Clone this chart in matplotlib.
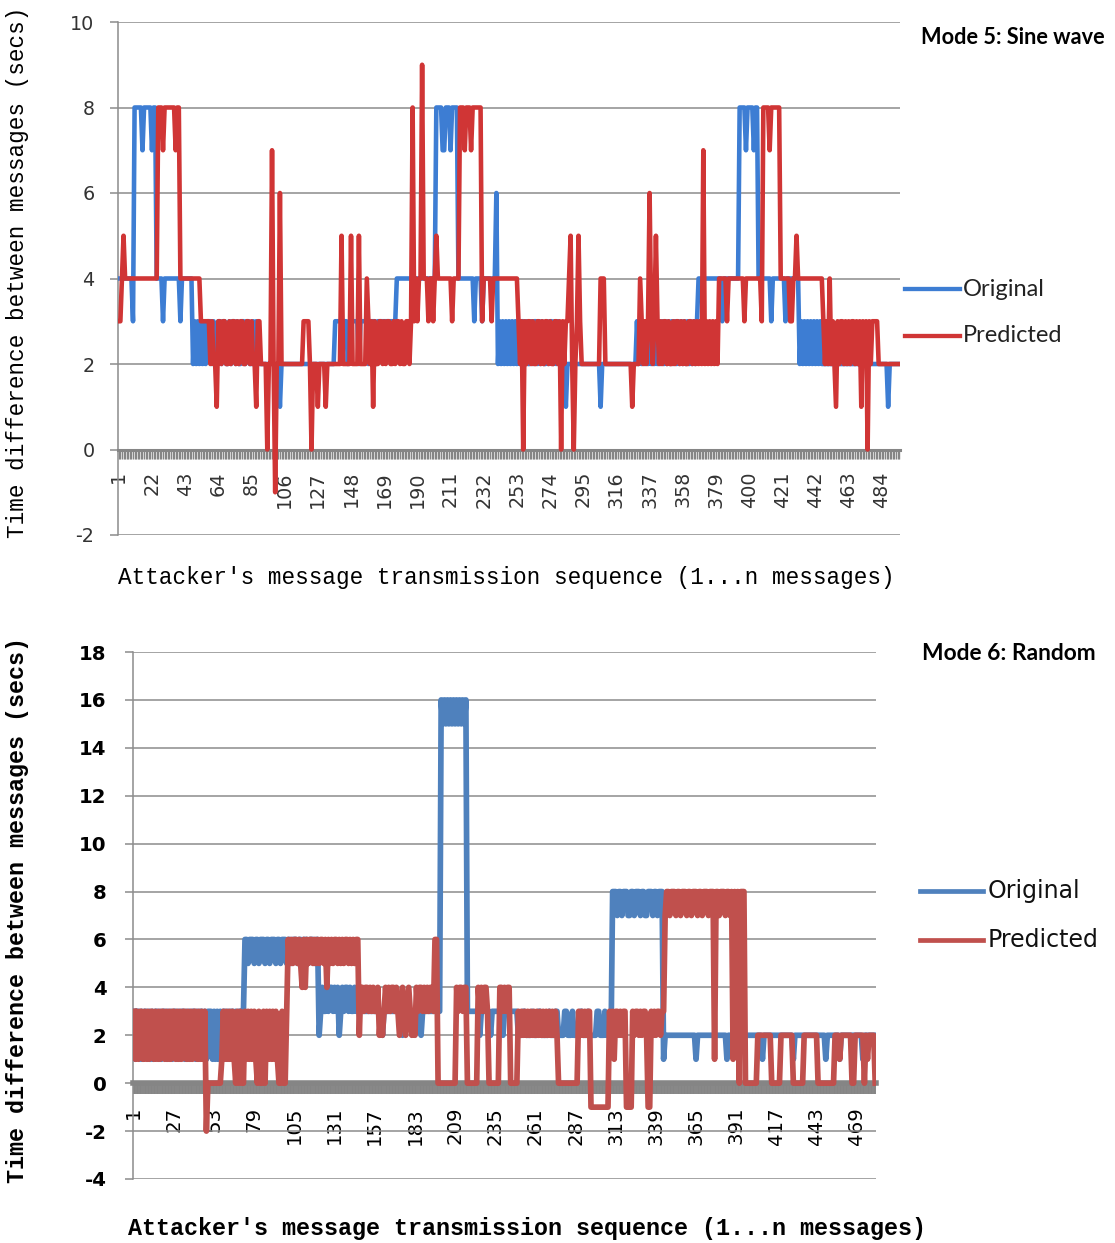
import numpy as np
import matplotlib
matplotlib.use('Agg')
import matplotlib.pyplot as plt
from matplotlib.lines import Line2D
from matplotlib.ticker import FixedLocator, NullFormatter, FixedFormatter

# ------------------------------------------------------------------ data
# Each series is run-length encoded: (value, number of consecutive messages)
TOP_N = 495
top_original = [
    (4, 9), (3, 1), (8, 5), (7, 1), (8, 5), (7, 1), (8, 2), (4, 4), (3, 1), (4, 10), (3, 1), (4, 7),
    (2, 1), (3, 1), (2, 1), (3, 1), (2, 1), (3, 1), (2, 1), (3, 1), (2, 1), (3, 1),
    (3, 2), (2, 1), (3, 1), (2, 2), (3, 2), (2, 1), (3, 2), (2, 2), (3, 1), (2, 1), (3, 2), (2, 1),
    (3, 1), (2, 2), (3, 2), (2, 1), (3, 2), (2, 2), (3, 1), (2, 1), (3, 1), (2, 4),
    (2, 10), (1, 1), (2, 34),
    (3, 8), (2, 1), (3, 6), (2, 1), (3, 5), (2, 1), (3, 4), (2, 1), (3, 12),
    (4, 25), (8, 4), (7, 2), (8, 3), (7, 1), (8, 4),
    (4, 10), (3, 1), (4, 4), (3, 1), (4, 8), (6, 1),
    (2, 1), (3, 1), (2, 1), (3, 1), (2, 1), (3, 1), (2, 1), (3, 1), (2, 1), (3, 1), (2, 1), (3, 1), (2, 1),
    (3, 1), (2, 1), (3, 2), (2, 1), (3, 1), (2, 2), (3, 1), (2, 1), (3, 2), (2, 1), (3, 1), (2, 1),
    (3, 1), (2, 2), (3, 1), (2, 1), (3, 2), (2, 1), (3, 1), (2, 1), (3, 1), (2, 4),
    (1, 1), (2, 21), (1, 1), (2, 22),
    (3, 1), (2, 1), (3, 1), (2, 1), (3, 1), (2, 1), (3, 1), (2, 1), (3, 1), (2, 1), (3, 1), (2, 1), (3, 1),
    (2, 1), (3, 1), (2, 1), (3, 1), (2, 1), (3, 1), (2, 1), (3, 1), (2, 1), (3, 1), (2, 1), (3, 1), (2, 1),
    (3, 1), (2, 1), (3, 1), (2, 1), (3, 1), (2, 1), (3, 1), (2, 1), (3, 1), (2, 1), (3, 1), (2, 1), (3, 1),
    (4, 15), (3, 1), (4, 10), (8, 4), (7, 1), (8, 4), (7, 1), (8, 2),
    (4, 8), (3, 1), (4, 8), (3, 1), (4, 8),
    (2, 1), (3, 1), (2, 1), (3, 1), (2, 1), (3, 1), (2, 1), (3, 1), (2, 1), (3, 1), (2, 1), (3, 1), (2, 1),
    (3, 1), (2, 1),
    (2, 41), (1, 1), (2, 7),
]
top_predicted = [
    (3, 2), (4, 1), (5, 1), (4, 21), (8, 3), (7, 1), (8, 7), (7, 1), (8, 2), (4, 13), (3, 4),
    (3, 2), (2, 1), (3, 1), (2, 2), (1, 1), (3, 2), (2, 1), (3, 2), (2, 2), (3, 1), (2, 1), (3, 2), (2, 1),
    (3, 1), (2, 1), (3, 2), (2, 2), (3, 2), (2, 1), (3, 1), (2, 2), (1, 1), (3, 2), (2, 2),
    (2, 2), (0, 1), (2, 2), (7, 1), (2, 1), (-1, 1), (2, 2), (6, 1), (2, 14), (3, 4), (2, 1), (0, 1),
    (2, 3), (1, 1), (2, 4), (1, 1), (2, 9), (5, 1), (2, 5), (5, 1), (2, 4), (5, 1), (2, 4), (4, 1),
    (3, 1), (2, 1), (3, 1), (1, 1), (3, 1), (2, 2), (3, 2), (2, 1), (3, 1), (2, 1), (3, 2), (2, 2),
    (3, 1), (2, 1), (3, 2), (2, 1), (3, 1), (2, 2), (3, 2), (2, 1), (3, 1),
    (8, 1), (3, 1), (4, 1), (3, 1), (4, 2), (9, 1), (4, 3), (3, 1), (4, 2), (3, 1), (4, 1), (5, 1),
    (4, 9), (3, 1), (4, 4), (8, 3), (7, 1), (8, 3), (7, 1), (8, 6), (3, 1), (4, 5), (3, 1), (4, 16),
    (3, 1), (2, 1), (3, 1), (0, 1), (3, 1), (2, 1), (3, 2), (2, 1), (3, 1), (2, 2), (3, 2), (2, 1),
    (3, 1), (2, 1), (3, 2), (2, 1), (3, 1), (2, 2), (3, 2), (2, 1), (3, 1), (0, 1), (3, 1), (2, 1),
    (3, 2), (4, 1), (5, 1), (2, 1), (0, 1), (2, 1), (3, 1), (5, 1), (3, 1), (2, 12), (4, 3), (2, 17),
    (1, 1), (2, 4), (4, 1), (3, 1), (2, 1), (3, 1), (2, 1), (3, 1), (6, 1), (3, 1), (2, 1), (3, 1),
    (5, 1), (3, 1),
    (2, 1), (3, 1), (2, 1), (3, 2), (2, 1), (3, 1), (2, 2), (3, 1), (2, 1), (3, 2), (2, 1), (3, 1),
    (2, 1), (3, 1), (2, 2), (3, 2), (2, 1), (3, 1), (2, 1), (3, 1), (2, 1), (3, 1),
    (2, 1), (7, 1), (2, 1), (3, 1), (2, 1), (3, 1), (2, 1), (3, 1), (2, 1), (3, 1), (2, 1),
    (4, 5), (3, 1), (4, 10), (3, 1), (4, 10), (3, 1), (8, 4), (7, 1), (8, 6),
    (4, 6), (3, 2), (4, 2), (5, 1), (4, 16),
    (3, 1), (2, 1), (3, 1), (2, 1), (4, 1), (2, 1), (3, 1), (2, 1), (1, 1), (3, 1), (2, 1), (3, 2),
    (2, 1), (3, 1), (2, 1), (3, 1), (2, 1), (3, 2), (2, 1), (3, 1), (2, 1), (3, 1), (1, 1), (3, 1),
    (2, 1), (3, 1), (0, 1), (3, 1), (2, 1),
    (3, 4), (2, 14),
]
top_xtick_labels = [1, 22, 43, 64, 85, 106, 127, 148, 169, 190, 211, 232, 253, 274, 295, 316,
                    337, 358, 379, 400, 421, 442, 463, 484]
top_yticks = [-2, 0, 2, 4, 6, 8, 10]

BOT_N = 481
bot_original = [
    (3, 1), (1, 1), (3, 2), (1, 1), (3, 1), (1, 1), (3, 2), (1, 1), (3, 1), (1, 1), (3, 1), (1, 1),
    (3, 2), (1, 1), (3, 1), (1, 1), (3, 2), (1, 1), (3, 1), (1, 1), (3, 1), (1, 1), (3, 2), (1, 1),
    (3, 1), (1, 1), (3, 2), (1, 1), (3, 1), (1, 1), (3, 1), (1, 1), (3, 2), (1, 1), (3, 1), (1, 1),
    (3, 2), (1, 1), (3, 1), (1, 1), (3, 2),
    (3, 1), (1, 1), (3, 1), (1, 1), (3, 1), (1, 1), (3, 1),
    (1, 1), (3, 2), (1, 1), (3, 1), (1, 1), (3, 2), (2, 1), (3, 1), (1, 1), (3, 2), (1, 1), (3, 1),
    (6, 2), (5, 1), (6, 3), (5, 1), (6, 2), (5, 1), (6, 3), (5, 1), (6, 2), (5, 1), (6, 3), (5, 1),
    (6, 2), (5, 1), (6, 3), (5, 1), (6, 2), (5, 1), (6, 3), (5, 1), (6, 2), (5, 1), (6, 3), (5, 1),
    (6, 1), (6, 2), (5, 1), (6, 2),
    (2, 1), (3, 1), (4, 1), (3, 2), (4, 1), (3, 1), (4, 2), (3, 1), (4, 1), (3, 1), (4, 1),
    (2, 1), (3, 1), (4, 1), (3, 1), (4, 2), (3, 1), (4, 1), (3, 2), (4, 1), (3, 1), (4, 1), (3, 1),
    (3, 14), (2, 1), (3, 12), (2, 1), (3, 11), (2, 1), (3, 12),
    (16, 1), (15, 1), (16, 1), (15, 1), (16, 1), (15, 1), (16, 1), (15, 1), (16, 1), (15, 1), (16, 1),
    (15, 1), (16, 1), (15, 1), (16, 1), (15, 1), (16, 1),
    (3, 8), (2, 1), (3, 6), (2, 1), (3, 7), (2, 1), (3, 9),
    (2, 3), (3, 2), (2, 4), (3, 1), (2, 3), (3, 2), (2, 5), (3, 1), (2, 3), (3, 2), (2, 4), (3, 2),
    (2, 3), (3, 1), (2, 4), (3, 2), (2, 3), (3, 1), (2, 5), (3, 2), (2, 3), (3, 1), (2, 4),
    (8, 3), (7, 1), (8, 2), (7, 1), (8, 3), (7, 2), (8, 2), (7, 1), (8, 3), (7, 1), (8, 2), (7, 2),
    (8, 3), (7, 1), (8, 2), (7, 1), (8, 3),
    (1, 1), (2, 20), (1, 1), (2, 19), (1, 1), (2, 22), (1, 1), (2, 19), (1, 1), (2, 20), (1, 1),
    (2, 8), (1, 1), (2, 14), (1, 1), (2, 8),
]
bot_predicted = [
    (3, 1), (1, 1), (3, 1), (1, 1), (3, 2), (1, 1), (3, 1), (1, 1), (3, 1), (1, 1), (3, 2), (1, 1),
    (3, 1), (1, 1), (3, 1), (1, 1), (3, 2), (1, 1), (3, 1), (1, 1), (3, 1), (1, 1), (3, 2), (1, 1),
    (3, 1), (1, 1), (3, 1), (1, 1), (3, 2), (1, 1), (3, 1), (1, 1), (3, 1), (1, 1), (3, 2), (1, 1),
    (3, 1), (1, 1), (3, 1), (1, 1), (3, 1),
    (-2, 1), (0, 9),
    (1, 1), (3, 1), (1, 1), (3, 1), (1, 1), (3, 1), (1, 1), (3, 1), (1, 1),
    (0, 1), (3, 1), (0, 1), (3, 1), (0, 2), (3, 1), (1, 1), (3, 1), (1, 1), (3, 1), (1, 1), (3, 1),
    (1, 1), (0, 1), (3, 1), (0, 2), (3, 1), (0, 1), (3, 1), (1, 1), (3, 1), (1, 1), (3, 1), (1, 1),
    (3, 1), (1, 1), (0, 2), (3, 1), (0, 2), (3, 1),
    (6, 1), (5, 1), (6, 1), (5, 1), (6, 2), (5, 1), (6, 1), (5, 1), (4, 1), (6, 1), (4, 1),
    (6, 1), (5, 1), (6, 2), (5, 1), (6, 1), (5, 1), (6, 1), (5, 1), (6, 2), (5, 1), (6, 1), (4, 1),
    (6, 1), (5, 1), (6, 1), (5, 1), (6, 2), (5, 1), (6, 1), (5, 1), (6, 1), (5, 1), (6, 2), (5, 1),
    (6, 1), (5, 1), (6, 1), (5, 1), (6, 2),
    (2, 1), (4, 1),
    (4, 1), (3, 1), (4, 2), (3, 1), (4, 1), (3, 1), (4, 1), (3, 2), (4, 1),
    (2, 1), (3, 1), (2, 1), (3, 1),
    (4, 1), (3, 1), (4, 1), (3, 1), (4, 2), (3, 1), (4, 1), (3, 1),
    (2, 1), (3, 1), (4, 1), (3, 1), (2, 1), (3, 1), (4, 1), (3, 1), (2, 1), (3, 1), (2, 1),
    (4, 1), (3, 1), (4, 2), (3, 1), (4, 1), (3, 1), (4, 1), (3, 1), (4, 2), (3, 1),
    (6, 2), (0, 12), (4, 1), (3, 1), (4, 2), (3, 1), (4, 2), (0, 7),
    (4, 1), (3, 1), (4, 1), (3, 1), (4, 2), (3, 1), (0, 7), (4, 2), (3, 1), (4, 1), (3, 1), (4, 2),
    (0, 5),
    (3, 1), (2, 1), (3, 1), (2, 1), (3, 1), (2, 1), (3, 1), (2, 1), (3, 1), (2, 1), (3, 1), (2, 1),
    (3, 1), (2, 1), (3, 1), (2, 1), (3, 1), (2, 1), (3, 1), (2, 1), (3, 1), (2, 1), (3, 1), (2, 1),
    (3, 1), (2, 1),
    (0, 13), (3, 1), (2, 1), (3, 1), (2, 1), (3, 1), (2, 1), (3, 2), (-1, 12),
    (3, 1), (2, 1), (3, 1), (1, 1), (3, 2), (2, 1), (3, 1), (2, 1), (3, 2), (-1, 4),
    (3, 1), (2, 1), (3, 2), (2, 1), (3, 1), (2, 1), (3, 2), (2, 1), (-1, 2),
    (3, 1), (2, 1), (3, 1), (2, 1), (3, 2), (2, 1), (3, 2), (7, 1),
    (8, 2), (7, 1), (8, 3), (7, 1), (8, 2), (7, 1), (8, 3), (7, 1), (8, 2), (7, 1), (8, 3), (7, 1),
    (8, 2), (7, 1), (8, 3), (7, 1), (8, 3), (1, 1),
    (8, 2), (7, 1), (8, 3), (7, 1), (8, 2), (7, 1), (8, 1), (1, 1), (8, 1), (7, 1), (8, 1), (0, 1),
    (8, 3),
    (0, 8), (2, 9), (0, 6), (2, 8), (0, 7), (2, 9), (0, 11), (2, 3), (1, 1), (2, 7), (0, 2), (2, 6),
    (0, 1), (2, 1), (1, 1), (2, 4), (0, 1),
]
bot_xtick_labels = [1, 27, 53, 79, 105, 131, 157, 183, 209, 235, 261, 287, 313, 339, 365, 391,
                    417, 443, 469]
bot_yticks = [-4, -2, 0, 2, 4, 6, 8, 10, 12, 14, 16, 18]

series_names = ["Original", "Predicted"]
top_colors = ["#3D7DD3", "#D03535"]
bot_colors = ["#4F81BD", "#C0504D"]


def expand(rle):
    return np.concatenate([np.full(c, v, dtype=float) for v, c in rle])


W, H = 1115, 1243
fig = plt.figure(figsize=(W / 100, H / 100), dpi=100)


def px(x, y):
    return x / W, 1 - y / H


GRID = "#8C8C8C"
BAND = "#858585"


def setup_axes(rect, n, ylim, yticks, xlabels, tick_color, yweight, xweight, tick_size,
               band_len, band_w, ypad, xpad):
    ax = fig.add_axes(rect)
    ax.set_xlim(0.5, n + 0.5)
    ax.set_ylim(*ylim)
    for s in ["top", "right"]:
        ax.spines[s].set_visible(False)
    ax.spines["left"].set_color(GRID)
    ax.spines["left"].set_linewidth(1.1)
    ax.spines["bottom"].set_position(("data", 0))
    ax.spines["bottom"].set_color(BAND)
    ax.spines["bottom"].set_linewidth(2.2)
    ax.set_yticks(yticks)
    ax.set_yticklabels([str(t) for t in yticks], fontfamily="DejaVu Sans", color=tick_color,
                       fontweight=yweight, fontsize=tick_size)
    ax.tick_params(axis="y", length=6, width=1.1, color=GRID, pad=ypad)
    ax.yaxis.grid(True, color=GRID, linewidth=1.1)
    ax.set_axisbelow(True)
    ax.xaxis.set_major_locator(FixedLocator(xlabels))
    ax.xaxis.set_major_formatter(FixedFormatter([str(v) for v in xlabels]))
    ax.xaxis.set_minor_locator(FixedLocator(np.arange(1, n + 1)))
    ax.xaxis.set_minor_formatter(NullFormatter())
    ax.tick_params(axis="x", which="both", direction="out", length=band_len, width=band_w,
                   color=BAND, pad=xpad)
    for lab in ax.get_xticklabels():
        lab.set_rotation(90)
        lab.set_fontfamily("DejaVu Sans")
        lab.set_color(tick_color)
        lab.set_fontweight(xweight)
        lab.set_fontsize(tick_size)
        lab.set_va("top")
    return ax


# ------------------------------------------------------------------ top chart
l, b = px(118, 535)
r, t = px(900, 22)
ax1 = setup_axes([l, b, r - l, t - b], TOP_N, (-2, 10), top_yticks, top_xtick_labels,
                 "#333333", "normal", "normal", 13.8, 6.5, 1.0, 11, 9)
for rle, c, name in zip([top_original, top_predicted], top_colors, series_names):
    y = expand(rle)
    ax1.plot(np.arange(1, len(y) + 1), y, color=c, lw=3.3, solid_joinstyle="round",
             label=name, zorder=3)

# ------------------------------------------------------------------ bottom chart
l, b = px(133, 1179)
r, t = px(876, 652)
ax2 = setup_axes([l, b, r - l, t - b], BOT_N, (-4, 18), bot_yticks, bot_xtick_labels,
                 "black", "bold", "normal", 14.2, 8, 1.4, 13, 9)
ax2.spines["bottom"].set_linewidth(4)
for rle, c, name in zip([bot_original, bot_predicted], bot_colors, series_names):
    y = expand(rle)
    ax2.plot(np.arange(1, len(y) + 1), y, color=c, lw=4.1, solid_joinstyle="round",
             label=name, zorder=3)

# ------------------------------------------------------------------ texts
mono = "Liberation Mono"
fig.text(*px(18, 272), "Time difference between messages (secs)", rotation=90, ha="center",
         va="center", fontfamily=mono, fontsize=16.3)
fig.text(*px(506, 577), "Attacker's message transmission sequence (1...n messages)",
         ha="center", va="center", fontfamily=mono, fontsize=16.3)
fig.text(*px(18, 910), "Time difference between messages (secs)", rotation=90, ha="center",
         va="center", fontfamily=mono, fontsize=16.8, fontweight="bold")
fig.text(*px(527, 1228), "Attacker's message transmission sequence (1...n messages)",
         ha="center", va="center", fontfamily=mono, fontsize=16.8, fontweight="bold")

fig.text(*px(1013, 38), "Mode 5: Sine wave", ha="center", va="center", fontfamily="Lato",
         fontweight="bold", fontsize=15.7)
fig.text(*px(1009, 654), "Mode 6: Random", ha="center", va="center", fontfamily="Lato",
         fontweight="bold", fontsize=16.4)

# legends
for (yy, c, name) in zip([289, 336], top_colors, series_names):
    x0, y0 = px(905, yy)
    x1_, _ = px(960, yy)
    fig.add_artist(Line2D([x0, x1_], [y0, y0], color=c, lw=3.1, transform=fig.transFigure))
    fig.text(*px(963, yy), name, ha="left", va="center", fontfamily="Lato", fontsize=17,
             color="#222222")
for (yy, c, name) in zip([891, 940], bot_colors, series_names):
    x0, y0 = px(920, yy)
    x1_, _ = px(983, yy)
    fig.add_artist(Line2D([x0, x1_], [y0, y0], color=c, lw=3.4, transform=fig.transFigure))
    fig.text(*px(988, yy), name, ha="left", va="center", fontfamily="DejaVu Sans", fontsize=17,
             color="#111111")

fig.savefig("out.png", dpi=100)
